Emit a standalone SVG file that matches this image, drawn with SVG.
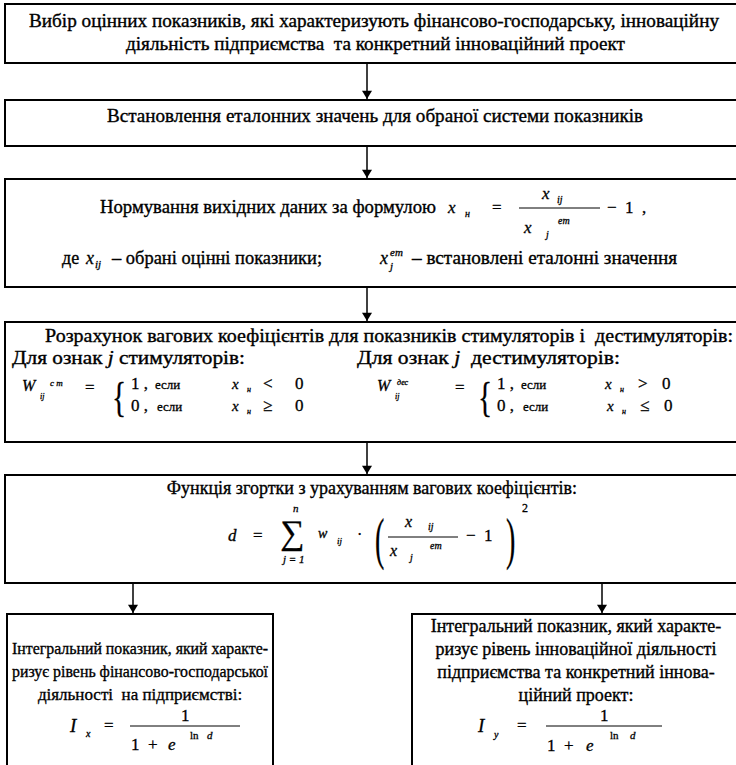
<svg xmlns="http://www.w3.org/2000/svg" width="736" height="765" viewBox="0 0 736 765" font-family="'Liberation Serif', 'DejaVu Serif', 'Times New Roman', serif">
<style>
.box{fill:none;stroke:#000;stroke-width:2}
.t{font-family:'Liberation Serif','DejaVu Serif','Times New Roman',serif;font-size:18px;fill:#000;stroke:#000;stroke-width:0.35;white-space:pre}
.s{font-family:'Liberation Serif','DejaVu Serif','Times New Roman',serif;font-size:17px;fill:#000;stroke:#000;stroke-width:0.35;white-space:pre}
.m{font-family:'Liberation Serif','DejaVu Serif','Times New Roman',serif;font-style:italic;fill:#000;stroke:#000;stroke-width:0.3;white-space:pre}
.r{font-family:'Liberation Serif','DejaVu Serif','Times New Roman',serif;fill:#000;stroke:#000;stroke-width:0.3;white-space:pre}
.c{stroke:#000;stroke-width:1.5;fill:none}
.fl{stroke:#000;stroke-width:1}
</style>
<defs>
<marker id="ah" viewBox="0 0 10 12" refX="10" refY="6" markerWidth="12" markerHeight="10" markerUnits="userSpaceOnUse" orient="auto"><path d="M0,0 L10,6 L0,12 z" fill="#000"/></marker>
</defs>
<rect x="0" y="0" width="736" height="765" fill="#fff"/>

<g id="connectors">
<line class="c" x1="367" y1="63" x2="367" y2="99" marker-end="url(#ah)"/>
<line class="c" x1="367" y1="146" x2="367" y2="178" marker-end="url(#ah)"/>
<line class="c" x1="367" y1="287" x2="367" y2="321" marker-end="url(#ah)"/>
<line class="c" x1="367" y1="442" x2="367" y2="474" marker-end="url(#ah)"/>
<line class="c" x1="133" y1="583" x2="133" y2="613" marker-end="url(#ah)"/>
<line class="c" x1="602" y1="583" x2="602" y2="613" marker-end="url(#ah)"/>
</g>

<g id="n1">
<rect class="box" x="5" y="4" width="740" height="59"/>
<text class="t" x="29" y="27" textLength="690" lengthAdjust="spacingAndGlyphs">Вибір оцінних показників, які характеризують фінансово-господарську, інноваційну</text>
<text class="t" x="126" y="50" textLength="499" lengthAdjust="spacingAndGlyphs">діяльність підприємства  та конкретний інноваційний проект</text>
</g>

<g id="n2">
<rect class="box" x="5" y="100" width="740" height="46"/>
<text class="t" x="107" y="122" textLength="536" lengthAdjust="spacingAndGlyphs">Встановлення еталонних значень для обраної системи показників</text>
</g>

<g id="n3">
<rect class="box" x="5" y="179" width="740" height="108"/>
<text class="t" x="100" y="213" textLength="336" lengthAdjust="spacingAndGlyphs">Нормування вихідних даних за формулою</text>
<text class="m" x="448" y="213" font-size="17">x</text>
<text class="m" x="465" y="217" font-size="10">н</text>
<text class="r" x="492" y="213" font-size="17">=</text>
<text class="m" x="542" y="199" font-size="17">x</text>
<text class="m" x="557" y="203" font-size="10">ij</text>
<line class="fl" x1="519" y1="208" x2="600" y2="208"/>
<text class="m" x="524" y="233" font-size="17">x</text>
<text class="m" x="546" y="238" font-size="10">j</text>
<text class="m" x="558" y="224" font-size="10">em</text>
<text class="r" x="607" y="213" font-size="17">−  1  ,</text>
<text class="t" x="62" y="264">де</text>
<text class="m" x="86" y="264" font-size="18">x</text>
<text class="m" x="95" y="268" font-size="11">ij</text>
<text class="t" x="112" y="264" textLength="210" lengthAdjust="spacingAndGlyphs">– обрані оцінні показники;</text>
<text class="m" x="380" y="264" font-size="18">x</text>
<text class="m" x="390" y="256" font-size="11">em</text>
<text class="m" x="390" y="270" font-size="11">j</text>
<text class="t" x="412" y="264" textLength="265" lengthAdjust="spacingAndGlyphs">– встановлені еталонні значення</text>
</g>

<g id="n4">
<rect class="box" x="5" y="322" width="740" height="120"/>
<text class="t" x="45" y="342" textLength="688" lengthAdjust="spacingAndGlyphs">Розрахунок вагових коефіцієнтів для показників стимуляторів і  дестимуляторів:</text>
<text class="t" x="12" y="364" textLength="233" lengthAdjust="spacingAndGlyphs">Для ознак <tspan font-style="italic">j</tspan> стимуляторів:</text>
<text class="t" x="357" y="364" textLength="263" lengthAdjust="spacingAndGlyphs">Для ознак <tspan font-style="italic">j</tspan>  дестимуляторів:</text>
<text class="m" x="22" y="391" font-size="16">W</text>
<text class="m" x="40" y="399" font-size="8">ij</text>
<text class="m" x="50" y="386" font-size="9">c m</text>
<text class="r" x="85" y="393" font-size="17">=</text>
<text class="r" transform="translate(112,411) scale(0.7,1)" font-size="42">{</text>
<text class="r" x="131" y="389" font-size="17">1 ,</text>
<text class="r" x="155" y="389" font-size="13">если</text>
<text class="m" x="232" y="389" font-size="15">x</text>
<text class="m" x="247" y="392" font-size="8">н</text>
<text class="r" x="263" y="389" font-size="17">&lt;</text>
<text class="r" x="295" y="389" font-size="17">0</text>
<text class="r" x="131" y="411" font-size="17">0 ,</text>
<text class="r" x="157" y="411" font-size="13">если</text>
<text class="m" x="232" y="411" font-size="15">x</text>
<text class="m" x="247" y="414" font-size="8">н</text>
<text class="r" x="263" y="411" font-size="17">≥</text>
<text class="r" x="295" y="411" font-size="17">0</text>
<text class="m" x="377" y="391" font-size="16">W</text>
<text class="m" x="395" y="399" font-size="8">ij</text>
<text class="m" x="397" y="385" font-size="8">дес</text>
<text class="r" x="455" y="393" font-size="17">=</text>
<text class="r" transform="translate(478,411) scale(0.7,1)" font-size="42">{</text>
<text class="r" x="497" y="389" font-size="17">1 ,</text>
<text class="r" x="521" y="389" font-size="13">если</text>
<text class="m" x="605" y="389" font-size="15">x</text>
<text class="m" x="620" y="392" font-size="8">н</text>
<text class="r" x="638" y="389" font-size="17">&gt;</text>
<text class="r" x="662" y="389" font-size="17">0</text>
<text class="r" x="497" y="411" font-size="17">0 ,</text>
<text class="r" x="523" y="411" font-size="13">если</text>
<text class="m" x="607" y="411" font-size="15">x</text>
<text class="m" x="622" y="414" font-size="8">н</text>
<text class="r" x="640" y="411" font-size="17">≤</text>
<text class="r" x="664" y="411" font-size="17">0</text>
</g>

<g id="n5">
<rect class="box" x="5" y="475" width="740" height="108"/>
<text class="t" x="372" y="494" text-anchor="middle">Функція згортки з урахуванням вагових коефіцієнтів:</text>
<text class="m" x="228" y="541" font-size="17">d</text>
<text class="r" x="253" y="541" font-size="17">=</text>
<text class="r" x="280" y="544" font-size="34">∑</text>
<text class="m" x="293" y="512" font-size="11">n</text>
<text class="m" x="283" y="563" font-size="11">j = 1</text>
<text class="m" x="318" y="538" font-size="14">w</text>
<text class="m" x="337" y="544" font-size="9">ij</text>
<text class="r" x="357" y="540" font-size="16">·</text>
<text class="r" transform="translate(375,558) scale(0.5,1)" font-size="56">(</text>
<text class="m" x="405" y="527" font-size="16">x</text>
<text class="m" x="428" y="530" font-size="10">ij</text>
<line class="fl" x1="388" y1="537" x2="458" y2="537"/>
<text class="m" x="390" y="556" font-size="16">x</text>
<text class="m" x="410" y="561" font-size="10">j</text>
<text class="m" x="430" y="549" font-size="10">em</text>
<text class="r" x="466" y="541" font-size="17">−  1</text>
<text class="r" transform="translate(506,558) scale(0.5,1)" font-size="56">)</text>
<text class="r" x="522" y="512" font-size="12">2</text>
</g>

<g id="n6">
<rect class="box" x="7" y="614" width="266" height="160"/>
<text class="s" x="140" y="654" text-anchor="middle" textLength="256" lengthAdjust="spacingAndGlyphs">Інтегральний показник, який характе-</text>
<text class="s" x="140" y="677" text-anchor="middle" textLength="256" lengthAdjust="spacingAndGlyphs">ризує рівень фінансово-господарської</text>
<text class="s" x="140" y="700" text-anchor="middle">діяльності  на підприємстві:</text>
<text class="m" x="70" y="732" font-size="19">I</text>
<text class="m" x="86" y="737" font-size="10">x</text>
<text class="r" x="104" y="731" font-size="17">=</text>
<text class="r" x="181" y="721" font-size="17">1</text>
<line class="fl" x1="130" y1="726" x2="240" y2="726"/>
<text class="r" x="131" y="750" font-size="17">1  +</text>
<text class="m" x="168" y="750" font-size="17">e</text>
<text class="r" x="190" y="739" font-size="11">ln</text>
<text class="m" x="207" y="739" font-size="11">d</text>
</g>

<g id="n7">
<rect class="box" x="412" y="614" width="340" height="160"/>
<text class="t" x="576" y="632" text-anchor="middle" font-size="19">Інтегральний показник, який характе-</text>
<text class="t" x="576" y="655" text-anchor="middle" font-size="19">ризує рівень інноваційної діяльності</text>
<text class="t" x="576" y="678" text-anchor="middle" font-size="19">підприємства та конкретний іннова-</text>
<text class="t" x="576" y="701" text-anchor="middle" font-size="19">ційний проект:</text>
<text class="m" x="478" y="732" font-size="19">I</text>
<text class="m" x="494" y="738" font-size="10">y</text>
<text class="r" x="517" y="731" font-size="17">=</text>
<text class="r" x="600" y="721" font-size="17">1</text>
<line class="fl" x1="546" y1="726" x2="662" y2="726"/>
<text class="r" x="547" y="751" font-size="17">1  +</text>
<text class="m" x="586" y="751" font-size="17">e</text>
<text class="r" x="610" y="739" font-size="11">ln</text>
<text class="m" x="630" y="739" font-size="11">d</text>
</g>
</svg>
